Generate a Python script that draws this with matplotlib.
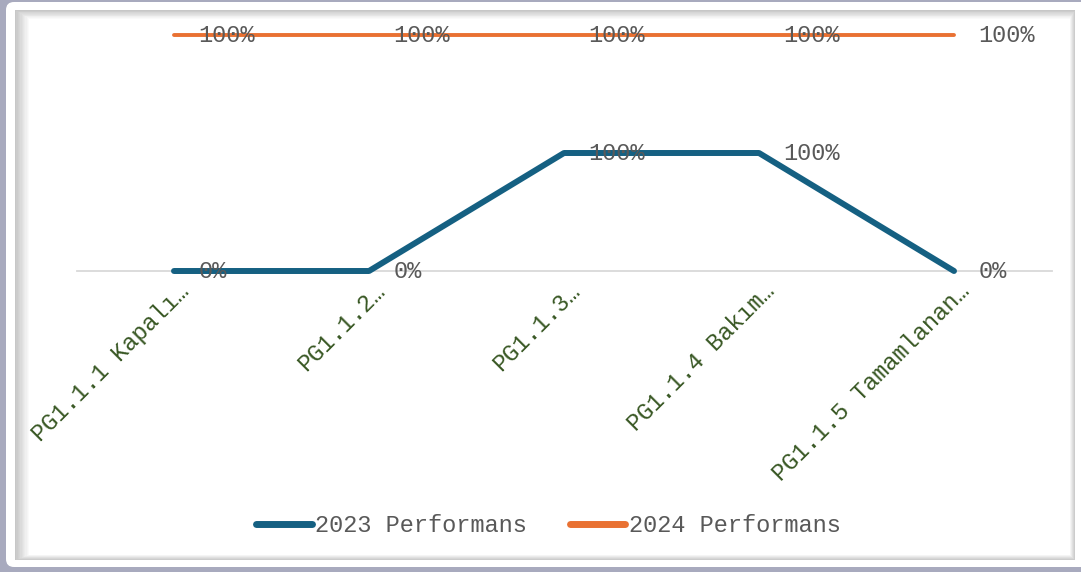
"""
2023 / 2024 performans line chart (100% stacked line)
"""
import matplotlib
matplotlib.use('Agg')
import matplotlib.pyplot as plt
import matplotlib.transforms as mtransforms
from matplotlib.patches import FancyBboxPatch, Rectangle
import numpy as np

# Data
categories = ['PG1.1.1 Kapalı…', 'PG1.1.2…', 'PG1.1.3…', 'PG1.1.4 Bakım…', 'PG1.1.5 Tamamlanan…']
perf_2023 = [0, 0, 100, 100, 0]
perf_2024 = [100, 100, 100, 100, 100]
series_names = ['2023 Performans', '2024 Performans']

blue = '#156082'
orange = '#E97132'
label_gray = '#595959'
tick_green = '#385723'
mono = 'Liberation Mono'

fig = plt.figure(figsize=(10.81, 5.72), dpi=100)
fig.patch.set_facecolor('#a8aabe')

# Background card with bevel (figure pixel coordinates)
bg = fig.add_axes([0, 0, 1, 1], zorder=-10)
bg.set_xlim(0, 1081)
bg.set_ylim(572, 0)
bg.axis('off')
bg.add_patch(FancyBboxPatch((6, 2), 1085, 565, boxstyle='round,pad=0,rounding_size=8',
                            facecolor='white', edgecolor='none'))
steps = 12
for k in range(steps):
    t = k / (steps - 1)
    g = 0.78 + 0.22 * t
    x0 = 15 + k * 1.3
    y0 = 10 + k * 0.8
    x1 = 1075 - k * 0.5
    y1 = 560 - k * 0.5
    bg.add_patch(Rectangle((x0, y0), x1 - x0, y1 - y0, facecolor=(g, g, g),
                           edgecolor='none'))

# Plot area
ax = fig.add_axes([76.5 / 1081, (572 - 271) / 572, 975 / 1081, 236 / 572])
ax.patch.set_alpha(0)

x = np.arange(len(categories))
b = np.array(perf_2023, dtype=float)
o = np.array(perf_2024, dtype=float)
total = b + o
frac_b = b / total
frac_top = total / total

ax.plot(x, frac_b, color=blue, lw=4.3, solid_capstyle='round', solid_joinstyle='round',
        label=series_names[0], clip_on=False, zorder=3)
ax.plot(x, frac_top, color=orange, lw=2.8, solid_capstyle='round',
        label=series_names[1], clip_on=False, zorder=3)

for xi, yi, v in zip(x, frac_b, perf_2023):
    ax.annotate(f'{v}%', (xi, yi), xytext=(17.5, 0), textcoords='offset points',
                ha='left', va='center', fontsize=17, color=label_gray,
                family=mono, zorder=4)
for xi, yi, v in zip(x, frac_top, perf_2024):
    ax.annotate(f'{v}%', (xi, yi), xytext=(17.5, 0), textcoords='offset points',
                ha='left', va='center', fontsize=17, color=label_gray,
                family=mono, zorder=4)

ax.set_xlim(-0.5, len(categories) - 0.5)
ax.set_ylim(0, 1)
ax.set_yticks([])
for side in ['top', 'right', 'left']:
    ax.spines[side].set_visible(False)
ax.spines['bottom'].set_color('#d9d9d9')
ax.spines['bottom'].set_linewidth(1.3)

ax.set_xticks(x)
ax.set_xticklabels(categories, rotation=45, ha='right', va='center',
                   rotation_mode='anchor', fontsize=17, color=tick_green, family=mono)
ax.tick_params(axis='x', length=0, pad=0)
offset = mtransforms.ScaledTranslation(0.12, -0.17, fig.dpi_scale_trans)
for lbl in ax.get_xticklabels():
    lbl.set_transform(lbl.get_transform() + offset)

leg = fig.legend(loc='center', bbox_to_anchor=(548.5 / 1081, (572 - 526) / 572),
                 ncol=2, frameon=False, prop={'family': mono, 'size': 17},
                 handlelength=2.35, handletextpad=0.15, columnspacing=1.8)
for t in leg.get_texts():
    t.set_color(label_gray)
for h in leg.get_lines():
    h.set_linewidth(5)
    h.set_solid_capstyle('round')

plt.savefig('out.png', dpi=100, facecolor=fig.get_facecolor())
plt.close()
